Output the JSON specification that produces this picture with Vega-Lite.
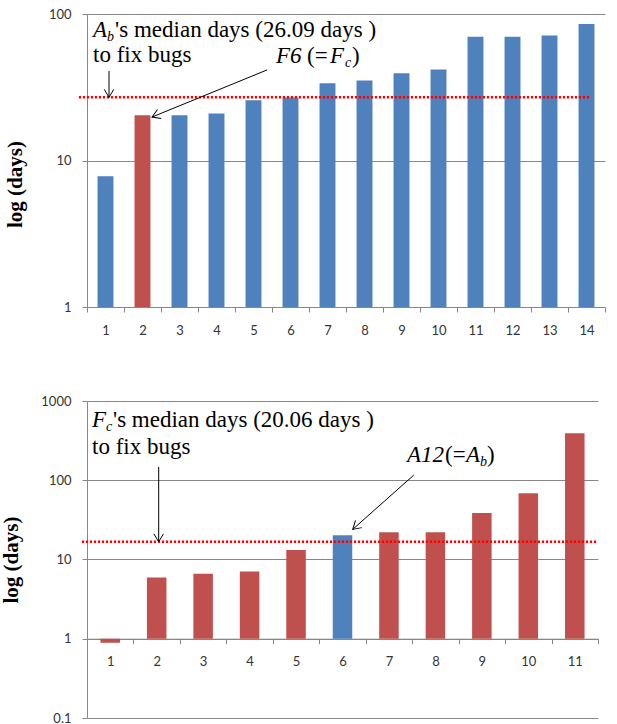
{
  "$schema": "https://vega.github.io/schema/vega-lite/v6.json",
  "padding": {"left": 0, "top": 8, "right": 5, "bottom": 0},
  "spacing": 58,
  "config": {
    "view": {"stroke": null},
    "axis": {
      "gridColor": "#878787", "domainColor": "#878787", "tickColor": "#878787",
      "labelFont": "Lato", "labelFontSize": 13, "labelColor": "#333333",
      "titleFont": "Liberation Serif", "titleFontWeight": "bold", "titleFontSize": 21, "titleColor": "#000000",
      "tickSize": 5
    },
    "text": {"font": "Liberation Serif", "fontSize": 23, "color": "#000000", "align": "left", "baseline": "alphabetic"}
  },
  "vconcat": [
    {
      "width": 518,
      "height": 293,
      "layer": [
        {
          "data": {"values": [
            {"n": 1, "days": 7.8, "group": "A"},
            {"n": 2, "days": 20.4, "group": "F"},
            {"n": 3, "days": 20.4, "group": "A"},
            {"n": 4, "days": 20.9, "group": "A"},
            {"n": 5, "days": 25.8, "group": "A"},
            {"n": 6, "days": 26.9, "group": "A"},
            {"n": 7, "days": 33.7, "group": "A"},
            {"n": 8, "days": 35.1, "group": "A"},
            {"n": 9, "days": 39.4, "group": "A"},
            {"n": 10, "days": 41.8, "group": "A"},
            {"n": 11, "days": 70.0, "group": "A"},
            {"n": 12, "days": 70.0, "group": "A"},
            {"n": 13, "days": 71.4, "group": "A"},
            {"n": 14, "days": 85.5, "group": "A"}
          ]},
          "mark": {"type": "bar", "width": {"band": 0.43}},
          "encoding": {
            "x": {"field": "n", "type": "ordinal", "scale": {"paddingInner": 0, "paddingOuter": 0},
                  "axis": {"title": null, "labelAngle": 0, "tickBand": "extent", "grid": false, "labelPadding": 12}},
            "y": {"field": "days", "type": "quantitative", "title": "log (days)",
                  "scale": {"type": "log", "domain": [1, 100]},
                  "axis": {"values": [1, 10, 100], "format": "~g", "labelPadding": 11, "titlePadding": 23, "titleY": 170, "grid": true}},
            "y2": {"datum": 1},
            "color": {"field": "group", "type": "nominal", "scale": {"domain": ["A", "F"], "range": ["#4F81BD", "#C0504D"]}, "legend": null}
          }
        },
        {
          "data": {"values": [{"x": 0.28, "x2": 14.07, "y": 27}]},
          "mark": {"type": "rule", "color": "#FF0000", "strokeWidth": 2.5, "strokeDash": [2.2, 1.8]},
          "encoding": {
            "x": {"field": "x", "type": "quantitative", "scale": {"domain": [0.5, 14.5], "nice": false, "zero": false}, "axis": null},
            "x2": {"field": "x2"},
            "y": {"field": "y", "type": "quantitative", "title": "log (days)"}
          }
        },
        {
          "data": {"values": [
            {"x": 1.095, "y": 40.8, "x2": 1.095, "y2": 27.0},
            {"x": 5.365, "y": 41.5, "x2": 2.257, "y2": 19.8}
          ]},
          "mark": {"type": "rule", "color": "#000000", "strokeWidth": 1},
          "encoding": {
            "x": {"field": "x", "type": "quantitative", "scale": {"domain": [0.5, 14.5], "nice": false, "zero": false}, "axis": null},
            "x2": {"field": "x2"},
            "y": {"field": "y", "type": "quantitative", "title": "log (days)"},
            "y2": {"field": "y2"}
          }
        },
        {
          "data": {"values": [{"x": 1.095, "y": 27.0}]},
          "mark": {"type": "point", "shape": "M -0.6 1 L 0 0 L 0.6 1", "filled": false, "stroke": "#000000", "strokeWidth": 1, "size": 256, "angle": 180, "opacity": 1},
          "encoding": {
            "x": {"field": "x", "type": "quantitative", "scale": {"domain": [0.5, 14.5], "nice": false, "zero": false}, "axis": null},
            "y": {"field": "y", "type": "quantitative", "title": "log (days)"}
          }
        },
        {
          "data": {"values": [{"x": 2.257, "y": 19.8}]},
          "mark": {"type": "point", "shape": "M -0.6 1 L 0 0 L 0.6 1", "filled": false, "stroke": "#000000", "strokeWidth": 1, "size": 256, "angle": 247.4, "opacity": 1},
          "encoding": {
            "x": {"field": "x", "type": "quantitative", "scale": {"domain": [0.5, 14.5], "nice": false, "zero": false}, "axis": null},
            "y": {"field": "y", "type": "quantitative", "title": "log (days)"}
          }
        },
        {
          "data": {"values": [
            {"x": 1.26, "y": 69.7, "t": "'s median days (26.09 days )"},
            {"x": 0.662, "y": 47.0, "t": "to fix bugs"},
            {"x": 6.446, "y": 46.3, "t": "(="},
            {"x": 7.662, "y": 46.3, "t": ")"}
          ]},
          "mark": {"type": "text"},
          "encoding": {
            "x": {"field": "x", "type": "quantitative", "scale": {"domain": [0.5, 14.5], "nice": false, "zero": false}, "axis": null},
            "y": {"field": "y", "type": "quantitative", "title": "log (days)"},
            "text": {"field": "t"}
          }
        },
        {
          "data": {"values": [
            {"x": 0.662, "y": 69.7, "t": "A"},
            {"x": 5.608, "y": 46.3, "t": "F6"},
            {"x": 7.068, "y": 46.3, "t": "F"}
          ]},
          "mark": {"type": "text", "fontStyle": "italic"},
          "encoding": {
            "x": {"field": "x", "type": "quantitative", "scale": {"domain": [0.5, 14.5], "nice": false, "zero": false}, "axis": null},
            "y": {"field": "y", "type": "quantitative", "title": "log (days)"},
            "text": {"field": "t"}
          }
        },
        {
          "data": {"values": [
            {"x": 1.041, "y": 65.4, "t": "b"},
            {"x": 7.473, "y": 43.5, "t": "c"}
          ]},
          "mark": {"type": "text", "fontStyle": "italic", "fontSize": 14},
          "encoding": {
            "x": {"field": "x", "type": "quantitative", "scale": {"domain": [0.5, 14.5], "nice": false, "zero": false}, "axis": null},
            "y": {"field": "y", "type": "quantitative", "title": "log (days)"},
            "text": {"field": "t"}
          }
        }
      ],
      "resolve": {"scale": {"x": "independent"}}
    },
    {
      "width": 511,
      "height": 317,
      "layer": [
        {
          "data": {"values": [
            {"n": 1, "days": 0.89, "group": "F"},
            {"n": 2, "days": 5.94, "group": "F"},
            {"n": 3, "days": 6.6, "group": "F"},
            {"n": 4, "days": 7.06, "group": "F"},
            {"n": 5, "days": 13.2, "group": "F"},
            {"n": 6, "days": 20.3, "group": "A"},
            {"n": 7, "days": 22.0, "group": "F"},
            {"n": 8, "days": 22.0, "group": "F"},
            {"n": 9, "days": 38.6, "group": "F"},
            {"n": 10, "days": 68.3, "group": "F"},
            {"n": 11, "days": 392, "group": "F"}
          ]},
          "mark": {"type": "bar", "width": {"band": 0.42}},
          "encoding": {
            "x": {"field": "n", "type": "ordinal", "scale": {"paddingInner": 0, "paddingOuter": 0},
                  "axis": {"title": null, "labelAngle": 0, "tickBand": "extent", "grid": false, "labelPadding": 12, "offset": -79.3}},
            "y": {"field": "days", "type": "quantitative", "title": "log (days)",
                  "scale": {"type": "log", "domain": [0.1, 1000]},
                  "axis": {"values": [0.1, 1, 10, 100, 1000], "format": "~g", "labelPadding": 11, "titlePadding": 19, "grid": true}},
            "y2": {"datum": 1},
            "color": {"field": "group", "type": "nominal", "scale": {"domain": ["A", "F"], "range": ["#4F81BD", "#C0504D"]}, "legend": null}
          }
        },
        {
          "data": {"values": [{"x": 0.39, "x2": 11.5, "y": 16.7}]},
          "mark": {"type": "rule", "color": "#FF0000", "strokeWidth": 2.5, "strokeDash": [2.2, 1.8]},
          "encoding": {
            "x": {"field": "x", "type": "quantitative", "scale": {"domain": [0.5, 11.5], "nice": false, "zero": false}, "axis": null},
            "x2": {"field": "x2"},
            "y": {"field": "y", "type": "quantitative", "title": "log (days)"}
          }
        },
        {
          "data": {"values": [
            {"x": 2.043, "y": 147.5, "x2": 2.043, "y2": 16.7},
            {"x": 7.533, "y": 116, "x2": 6.22, "y2": 24.0}
          ]},
          "mark": {"type": "rule", "color": "#000000", "strokeWidth": 1},
          "encoding": {
            "x": {"field": "x", "type": "quantitative", "scale": {"domain": [0.5, 11.5], "nice": false, "zero": false}, "axis": null},
            "x2": {"field": "x2"},
            "y": {"field": "y", "type": "quantitative", "title": "log (days)"},
            "y2": {"field": "y2"}
          }
        },
        {
          "data": {"values": [{"x": 2.043, "y": 16.7}]},
          "mark": {"type": "point", "shape": "M -0.6 1 L 0 0 L 0.6 1", "filled": false, "stroke": "#000000", "strokeWidth": 1, "size": 256, "angle": 180, "opacity": 1},
          "encoding": {
            "x": {"field": "x", "type": "quantitative", "scale": {"domain": [0.5, 11.5], "nice": false, "zero": false}, "axis": null},
            "y": {"field": "y", "type": "quantitative", "title": "log (days)"}
          }
        },
        {
          "data": {"values": [{"x": 6.22, "y": 24.0}]},
          "mark": {"type": "point", "shape": "M -0.6 1 L 0 0 L 0.6 1", "filled": false, "stroke": "#000000", "strokeWidth": 1, "size": 256, "angle": 228.3, "opacity": 1},
          "encoding": {
            "x": {"field": "x", "type": "quantitative", "scale": {"domain": [0.5, 11.5], "nice": false, "zero": false}, "axis": null},
            "y": {"field": "y", "type": "quantitative", "title": "log (days)"}
          }
        },
        {
          "data": {"values": [
            {"x": 1.06, "y": 467, "t": "'s median days (20.06 days )"},
            {"x": 0.608, "y": 213, "t": "to fix bugs"},
            {"x": 8.208, "y": 169, "t": "(="},
            {"x": 9.112, "y": 169, "t": ")"}
          ]},
          "mark": {"type": "text"},
          "encoding": {
            "x": {"field": "x", "type": "quantitative", "scale": {"domain": [0.5, 11.5], "nice": false, "zero": false}, "axis": null},
            "y": {"field": "y", "type": "quantitative", "title": "log (days)"},
            "text": {"field": "t"}
          }
        },
        {
          "data": {"values": [
            {"x": 0.608, "y": 467, "t": "F"},
            {"x": 7.389, "y": 169, "t": "A12"},
            {"x": 8.66, "y": 169, "t": "A"}
          ]},
          "mark": {"type": "text", "fontStyle": "italic"},
          "encoding": {
            "x": {"field": "x", "type": "quantitative", "scale": {"domain": [0.5, 11.5], "nice": false, "zero": false}, "axis": null},
            "y": {"field": "y", "type": "quantitative", "title": "log (days)"},
            "text": {"field": "t"}
          }
        },
        {
          "data": {"values": [
            {"x": 0.909, "y": 416, "t": "c"},
            {"x": 8.962, "y": 150.6, "t": "b"}
          ]},
          "mark": {"type": "text", "fontStyle": "italic", "fontSize": 14},
          "encoding": {
            "x": {"field": "x", "type": "quantitative", "scale": {"domain": [0.5, 11.5], "nice": false, "zero": false}, "axis": null},
            "y": {"field": "y", "type": "quantitative", "title": "log (days)"},
            "text": {"field": "t"}
          }
        }
      ],
      "resolve": {"scale": {"x": "independent"}}
    }
  ]
}
